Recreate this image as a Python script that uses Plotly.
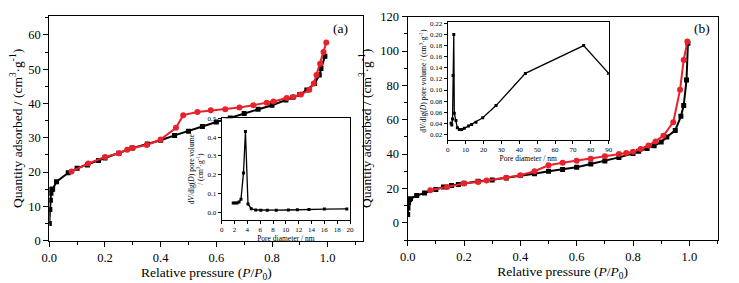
import plotly.graph_objects as go

# ---- Panel (a) isotherm ----
a_ads_x = [0.0, 0.002, 0.004, 0.006, 0.008, 0.012, 0.026, 0.068, 0.10, 0.137, 0.177, 0.20, 0.25, 0.297, 0.352, 0.40,
           0.45, 0.50, 0.55, 0.60, 0.65, 0.70, 0.75, 0.80, 0.85, 0.875, 0.90, 0.925, 0.953, 0.97, 0.976, 0.99]
a_ads_y = [5.0, 9.1, 11.8, 13.8, 15.0, 15.0, 17.2, 19.8, 21.1, 22.1, 23.4, 24.1, 25.5, 27.0, 28.2, 29.3,
           30.7, 31.9, 33.3, 34.6, 35.8, 37.1, 38.3, 39.5, 41.0, 41.8, 42.6, 43.9, 45.8, 48.3, 50.2, 53.8]
a_des_x = [0.995, 0.985, 0.973, 0.96, 0.95, 0.934, 0.904, 0.877, 0.853, 0.805, 0.781, 0.733, 0.683, 0.632, 0.58,
           0.532, 0.481, 0.455, 0.40, 0.35, 0.30, 0.28, 0.25, 0.20, 0.14, 0.08]
a_des_y = [57.8, 55.0, 51.6, 48.3, 45.8, 44.0, 42.6, 41.9, 41.6, 40.6, 40.2, 39.5, 38.8, 38.3, 38.0,
           37.5, 36.6, 32.9, 29.5, 27.9, 27.0, 26.5, 25.5, 24.4, 22.5, 20.2]

# ---- Panel (b) isotherm ----
b_ads_x = [0.0, 0.001, 0.003, 0.006, 0.01, 0.032, 0.06, 0.10, 0.127, 0.156, 0.18, 0.20, 0.25, 0.30, 0.35, 0.40,
           0.45, 0.50, 0.55, 0.60, 0.65, 0.70, 0.75, 0.80, 0.82, 0.85, 0.875, 0.90, 0.92, 0.95, 0.97, 0.98, 0.99, 0.995]
b_ads_y = [4.8, 8.7, 11.6, 13.5, 14.0, 15.9, 17.4, 19.4, 20.9, 21.7, 22.3, 23.0, 24.2, 25.0, 26.1, 27.5,
           28.6, 30.0, 31.0, 32.3, 34.3, 36.0, 38.1, 40.3, 41.6, 43.2, 44.9, 47.0, 50.0, 53.8, 62.0, 68.3, 83.2, 104.5]
b_des_x = [0.993, 0.98, 0.967, 0.943, 0.908, 0.88, 0.855, 0.827, 0.80, 0.776, 0.75, 0.70, 0.65, 0.60, 0.55, 0.50,
           0.45, 0.40, 0.35, 0.28, 0.25, 0.20, 0.14, 0.08]
b_des_y = [105.5, 94.8, 77.4, 58.6, 50.7, 47.4, 45.0, 43.0, 41.4, 40.6, 40.0, 38.7, 37.3, 36.2, 35.0, 33.5,
           30.0, 27.7, 26.3, 24.6, 23.8, 22.9, 20.9, 19.0]

# ---- Inset (a) pore size distribution ----
a_psd_x = [1.8, 2.1, 2.4, 2.7, 3.0, 3.4, 3.7, 4.1, 4.6, 5.3, 6.1, 7.1, 8.5, 10.4, 11.8, 13.6, 16.0, 19.5]
a_psd_y = [0.05, 0.05, 0.05, 0.055, 0.07, 0.21, 0.43, 0.045, 0.02, 0.013, 0.012, 0.012, 0.012, 0.013, 0.015,
           0.016, 0.018, 0.019]

# ---- Inset (b) pore size distribution ----
b_psd_x = [1.9, 2.3, 2.7, 3.0, 3.4, 3.7, 4.6, 5.4, 6.5, 7.8, 9.3, 11.6, 13.4, 15.8, 19.6, 27.0, 43.4, 76.0, 90.0]
b_psd_y = [0.040, 0.037, 0.048, 0.126, 0.200, 0.058, 0.045, 0.032, 0.029, 0.029, 0.031, 0.035, 0.038, 0.042,
           0.050, 0.072, 0.130, 0.180, 0.130]

RED = "#e8212b"
FONT = "Times New Roman, Liberation Serif, serif"
W, H, OFF = 739, 283, 8  # page body margin offsets the figure by 8 px


def dx(a, b):
    return [(a - OFF) / W, (b - OFF) / W]


def dy(top, bottom):
    return [1 - (bottom - OFF) / H, 1 - (top - OFF) / H]


fig = go.Figure()


def iso(x, y, xa, ya, color, symbol, size):
    fig.add_trace(go.Scatter(x=x, y=y, xaxis=xa, yaxis=ya, mode="lines+markers",
                             line=dict(color=color, width=2),
                             marker=dict(symbol=symbol, size=size, color=color),
                             showlegend=False))


iso(a_ads_x, a_ads_y, "x", "y", "black", "square", 5)
iso(a_des_x, a_des_y, "x", "y", RED, "circle", 6)
iso(b_ads_x, b_ads_y, "x2", "y2", "black", "square", 5)
iso(b_des_x, b_des_y, "x2", "y2", RED, "circle", 6)

fig.add_trace(go.Scatter(x=a_psd_x, y=a_psd_y, xaxis="x3", yaxis="y3", mode="lines+markers",
                         line=dict(color="black", width=1.3), marker=dict(symbol="square", size=3, color="black"),
                         showlegend=False))
fig.add_trace(go.Scatter(x=b_psd_x, y=b_psd_y, xaxis="x4", yaxis="y4", mode="lines+markers",
                         line=dict(color="black", width=1.3), marker=dict(symbol="square", size=3, color="black"),
                         showlegend=False))

main_ax = dict(showline=True, linecolor="black", linewidth=1.2, mirror=True, ticks="outside", ticklen=5,
               tickwidth=1.2, tickcolor="black", showgrid=False, zeroline=False, automargin=False,
               tickfont=dict(family=FONT, size=12.5, color="black"))
inset_ax = dict(showline=True, linecolor="black", linewidth=1, mirror=True, ticks="outside", ticklen=3,
                tickwidth=1, tickcolor="black", showgrid=False, zeroline=False, automargin=False,
                tickfont=dict(family=FONT, size=7, color="black"))

ytitle = "Quantity adsorbed / (cm<sup>3</sup>·g<sup>-1</sup>)"
xtitle = "Relative pressure (<i>P</i>/<i>P</i><sub>0</sub>)"
TF = dict(family=FONT, size=13.5)
IF = dict(family=FONT, size=7.5)

fig.update_layout(
    width=W, height=H, margin=dict(l=0, r=0, t=0, b=0),
    paper_bgcolor="white", plot_bgcolor="white",
    font=dict(family=FONT, color="black"),
    xaxis=dict(main_ax, domain=dx(49.3, 363.3), range=[0, 1.128], dtick=0.2, tickformat=".1f",
               minor=dict(dtick=0.1, ticks="outside", ticklen=3, tickcolor="black"),
               title=dict(text=xtitle, font=TF, standoff=2), anchor="y"),
    yaxis=dict(main_ax, domain=dy(16, 240.7), range=[0, 65.5], dtick=10,
               minor=dict(dtick=5, ticks="outside", ticklen=3, tickcolor="black"),
               title=dict(text=ytitle, font=TF, standoff=5), anchor="x"),
    xaxis2=dict(main_ax, domain=dx(407.7, 717.5), range=[0, 1.1], dtick=0.2, tickformat=".1f",
                minor=dict(dtick=0.1, ticks="outside", ticklen=3, tickcolor="black"),
                title=dict(text=xtitle, font=TF, standoff=2), anchor="y2"),
    yaxis2=dict(main_ax, domain=dy(16.7, 240), range=[-10, 120], dtick=20,
                minor=dict(dtick=10, ticks="outside", ticklen=3, tickcolor="black"),
                title=dict(text=ytitle, font=TF, standoff=5), anchor="x2"),
    xaxis3=dict(inset_ax, domain=dx(221.7, 350), range=[0, 20], dtick=2,
                title=dict(text="Pore diameter / nm", font=IF, standoff=1), anchor="y3"),
    yaxis3=dict(inset_ax, domain=dy(118.3, 220), range=[-0.04, 0.5], dtick=0.1, tickformat=".1f",
                title=dict(text="d<i>V</i>/dlg(<i>D</i>) pore volume<br>/ (cm<sup>3</sup>·g<sup>-1</sup>)",
                           font=IF, standoff=2), anchor="x3"),
    xaxis4=dict(inset_ax, domain=dx(447.7, 608.7), range=[0, 90], dtick=10,
                title=dict(text="Pore diameter / nm", font=IF, standoff=1), anchor="y4"),
    yaxis4=dict(inset_ax, domain=dy(22.3, 140), range=[0.01, 0.222], dtick=0.02, tickformat=".2f",
                title=dict(text="d<i>V</i>/dlg(<i>D</i>) pore volume / (cm<sup>3</sup>·g<sup>-1</sup>)",
                           font=IF, standoff=2), anchor="x4"),
    annotations=[
        dict(text="(a)", x=(340 - OFF) / W, y=1 - (28 - OFF) / H, xref="paper", yref="paper", showarrow=False,
             xanchor="center", yanchor="middle", font=TF),
        dict(text="(b)", x=(701.7 - OFF) / W, y=1 - (28.3 - OFF) / H, xref="paper", yref="paper",
             showarrow=False, xanchor="center", yanchor="middle", font=TF),
    ],
)

fig.write_html("out.html")
